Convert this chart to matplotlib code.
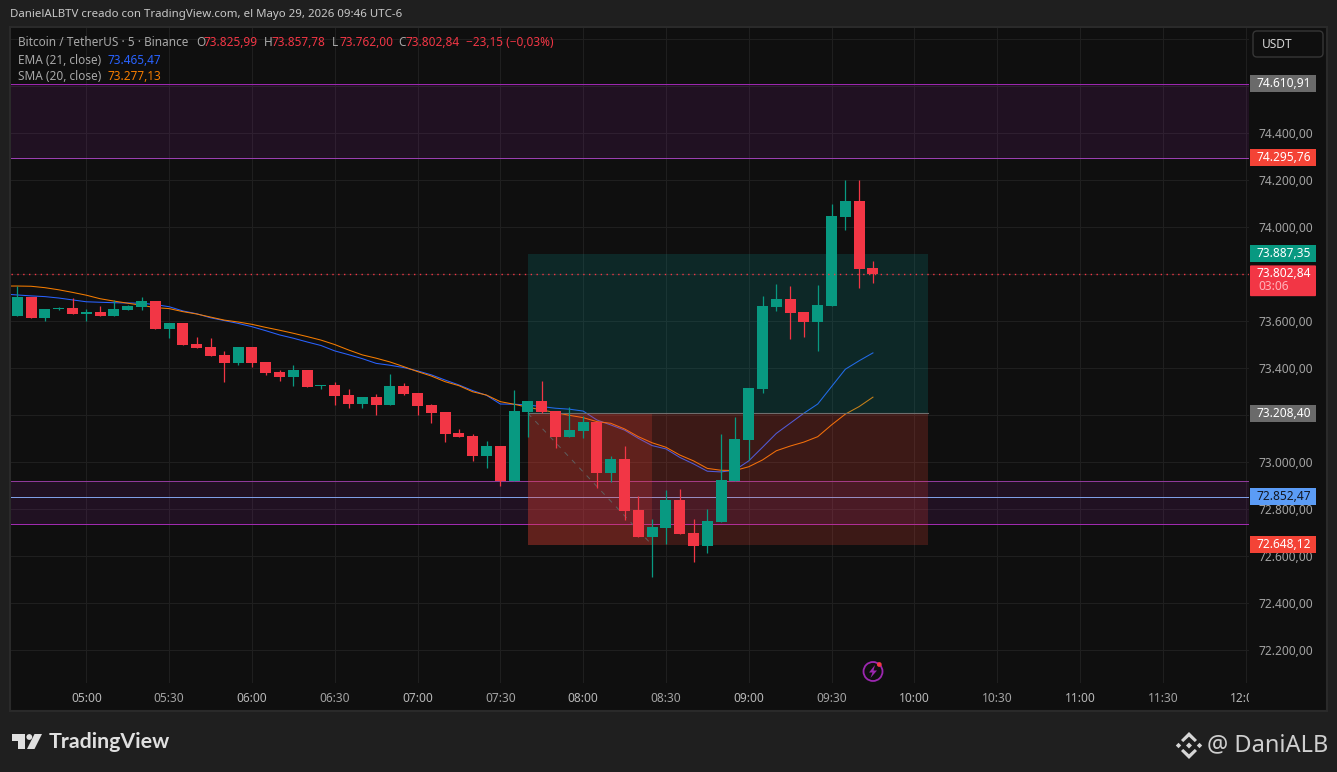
import matplotlib
matplotlib.use("Agg")
import matplotlib.pyplot as plt
from matplotlib.patches import Rectangle, Circle, Polygon, FancyBboxPatch
from matplotlib.transforms import Bbox, blended_transform_factory

plt.rcParams['font.family'] = ['Noto Sans', 'DejaVu Sans']

W, H = 1337, 772

# 5 minute candles, first bar is 04:35
opens = [73623, 73703, 73614, 73652, 73657, 73631, 73640, 73623, 73648, 73661,
         73686, 73567, 73593, 73503, 73491, 73457, 73423, 73491, 73427, 73384,
         73363, 73393, 73325, 73329, 73286, 73248, 73278, 73244, 73325, 73295,
         73244, 73214, 73125, 73112, 73027, 73069, 72920, 73214, 73261, 73218,
         73108, 73133, 73172, 72954, 73014, 72797, 72682, 72720, 72840, 72699,
         72644, 72746, 72920, 73095, 73312, 73661, 73695, 73640, 73597, 73665,
         74044, 74112, 73825.99]
highs = [73751, 73703, 73652, 73661, 73699, 73652, 73665, 73691, 73669, 73703,
         73686, 73593, 73593, 73533, 73529, 73474, 73491, 73491, 73427, 73393,
         73414, 73393, 73329, 73342, 73312, 73278, 73291, 73376, 73337, 73295,
         73248, 73214, 73142, 73120, 73091, 73069, 73308, 73261, 73346, 73218,
         73235, 73197, 73172, 73027, 73069, 72857, 72759, 72882, 72886, 72759,
         72801, 73120, 73193, 73316, 73708, 73759, 73750, 73640, 73754, 74099,
         74201, 74201, 73857.78]
lows = [73623, 73614, 73603, 73648, 73631, 73601, 73623, 73623, 73648, 73648,
        73567, 73529, 73499, 73486, 73452, 73342, 73414, 73406, 73371, 73346,
        73325, 73320, 73312, 73244, 73231, 73231, 73201, 73244, 73286, 73201,
        73167, 73086, 73108, 73006, 72976, 72899, 72920, 73108, 73210, 73061,
        73108, 73103, 72891, 72916, 72754, 72682, 72512, 72652, 72695, 72576,
        72614, 72746, 72920, 73010, 73295, 73644, 73525, 73533, 73474, 73665,
        73989, 73742, 73762.00]
closes = [73703, 73614, 73652, 73657, 73631, 73640, 73623, 73652, 73665, 73686,
          73567, 73593, 73499, 73486, 73452, 73423, 73491, 73423, 73380, 73363,
          73393, 73320, 73329, 73282, 73248, 73278, 73244, 73325, 73291, 73240,
          73210, 73120, 73108, 73027, 73069, 72920, 73218, 73261, 73214, 73108,
          73137, 73172, 72954, 73014, 72793, 72682, 72725, 72840, 72695, 72644,
          72750, 72925, 73099, 73316, 73665, 73695, 73635, 73597, 73669, 74048,
          74112, 73823, 73802.84]

# moving averages, first value is one bar before the first candle
ema = [73716, 73712, 73708, 73705, 73699, 73691, 73683, 73681, 73679, 73678,
       73677, 73671, 73662, 73644, 73632, 73615, 73603, 73591, 73577, 73560,
       73542, 73528, 73512, 73497, 73474, 73458, 73441, 73421, 73413, 73403,
       73389, 73372, 73350, 73329, 73305, 73285, 73248, 73247, 73244, 73237,
       73230, 73226, 73218, 73180, 73159, 73137, 73102, 73071, 73057, 73021,
       72993, 72962, 72959, 72967, 73006, 73064, 73123, 73166, 73209, 73248,
       73322, 73396, 73432, 73465.47]
sma = [73750, 73750, 73749, 73743, 73734, 73723, 73711, 73696, 73686, 73677,
       73668, 73658, 73654, 73641, 73631, 73618, 73605, 73597, 73587, 73574,
       73562, 73549, 73535, 73520, 73501, 73478, 73457, 73443, 73427, 73407,
       73386, 73367, 73343, 73326, 73300, 73286, 73258, 73247, 73234, 73223,
       73211, 73200, 73190, 73173, 73166, 73142, 73109, 73083, 73064, 73031,
       73006, 72974, 72966, 72965, 72981, 73010, 73049, 73069, 73086, 73109,
       73159, 73205, 73237, 73277.13]

price_ticks = [72200, 72400, 72600, 72800, 73000, 73200, 73400, 73600, 73800, 74000, 74200, 74400, 74600, 74800]
price_labels = ['72.200,00', '72.400,00', '72.600,00', '72.800,00', '73.000,00', '', '73.400,00',
                '73.600,00', '', '74.000,00', '74.200,00', '74.400,00', '', '']
time_labels = ['05:00', '05:30', '06:00', '06:30', '07:00', '07:30', '08:00', '08:30',
               '09:00', '09:30', '10:00', '10:30', '11:00', '11:30', '12:00']

zone_top = [74610.91, 74295.76]
zone_bottom = [72919, 72736]
level = 72852.47
entry, target, stop = 73208.40, 73887.35, 72648.12
last_price = 73802.84

GREEN = '#089981'
RED = '#f23645'
LOSS = '#f44336'
PURPLE = '#9c27b0'

fig = plt.figure(figsize=(W / 100, H / 100), dpi=100, facecolor='#1f1f1f')


def pixel_axes(zorder):
    a = fig.add_axes([0, 0, 1, 1], zorder=zorder)
    a.set_xlim(0, W)
    a.set_ylim(H, 0)
    a.axis('off')
    return a


back = pixel_axes(0)
back.add_patch(Rectangle((10, 27), 1317, 684, fc='#0f0f0f', ec='#2a2a2a', lw=1.5))

# main pane in pixels: x 11-1249, y 28-683
ax = fig.add_axes([11 / W, 1 - 683 / H, 1238 / W, 655 / H], zorder=1, facecolor='#0f0f0f')
ax.set_xlim(-0.457, 89.25)
ax.set_ylim(72060.8, 74848)
for s in ax.spines.values():
    s.set_visible(False)

ax.set_yticks(price_ticks, price_labels)
ax.yaxis.tick_right()
ax.set_xticks(range(5, 5 + 6 * len(time_labels), 6), time_labels)
ax.tick_params(axis='y', length=0, pad=6.5, labelsize=8.6, labelcolor='#a3a3a3')
ax.tick_params(axis='x', length=0, pad=6.5, labelsize=8.6, labelcolor='#a3a3a3')
ax.grid(True, color='#1f1f1f', lw=0.8)
ax.set_axisbelow(True)
for lab in ax.get_xticklabels():
    if lab.get_text().endswith(':00'):
        lab.set_color('#b8b8b8')
    if lab.get_text() in ('10:00', '11:00', '12:00'):
        lab.set_fontweight('bold')
last = ax.get_xticklabels()[-1]
last.set_clip_on(True)
last.set_clip_box(Bbox([[0, 0], [1249, H]]))

# purple zones
for lo, hi in [(zone_top[1], zone_top[0]), (zone_bottom[1], zone_bottom[0])]:
    ax.axhspan(lo, hi, fc=PURPLE, alpha=0.12, lw=0, zorder=1)
ax.axhline(zone_top[0], color=PURPLE, lw=0.72, zorder=1.5)
ax.axhline(zone_top[1], color='#9a3fb0', lw=0.72, zorder=1.5)
ax.axhline(zone_bottom[0], color='#8f3a9a', lw=0.72, zorder=1.5)
ax.axhline(zone_bottom[1], color='#a02ab0', lw=0.72, zorder=1.5)
ax.axhline(level, color='#7f9fe6', lw=0.72, zorder=1.5)

# moving averages
bars = list(range(-1, len(ema) - 1))
ax.plot(bars, ema, color='#2962ff', lw=0.75, zorder=2)
ax.plot(bars, sma, color='#f57c00', lw=0.75, zorder=2)

# long position tool
left, right, inner = 37, 66, 46
ax.add_patch(Rectangle((left, entry), right - left, target - entry, fc='#089990', alpha=0.19, lw=0, zorder=3))
ax.add_patch(Rectangle((left, stop), right - left, entry - stop, fc=LOSS, alpha=0.2, lw=0, zorder=3))
ax.add_patch(Rectangle((left, stop), inner - left, entry - stop, fc=LOSS, alpha=0.2, lw=0, zorder=3))
ax.plot([left, right], [entry, entry], color='#6e6e6e', lw=0.8, zorder=3.1)
ax.plot([left, inner], [entry, stop], color='#5e5e5e', lw=0.7, ls=(0, (5, 6)), zorder=3.1)

# candles
idx = range(len(opens))
colors = [GREEN if c >= o else RED for o, c in zip(opens, closes)]
ax.vlines(idx, lows, highs, colors=colors, lw=0.9, zorder=4)
bottoms = [min(o, c) for o, c in zip(opens, closes)]
heights = [max(abs(c - o), 4) for o, c in zip(opens, closes)]
ax.bar(idx, heights, bottom=bottoms, width=0.8, color=colors, lw=0, zorder=4.1)

ax.axhline(last_price, color=RED, lw=1, ls=(0, (1, 3.2)), zorder=5)

# everything on top of the pane: headers, price tags, logos
top = pixel_axes(2)
top.patch.set_alpha(0)
price_y = blended_transform_factory(top.transData, ax.transData)


def price_tag(price, text, bg, fg='white', sub=None):
    tag_h = 72.3
    if sub:
        top.add_patch(FancyBboxPatch((1250, price - 96), 66, 131, boxstyle='round,pad=0,rounding_size=1',
                                     fc=bg, lw=0, transform=price_y, mutation_aspect=4))
        top.text(1311, price, text, color=fg, fontsize=8.6, fontweight='medium', ha='right', va='center',
                 transform=price_y)
        top.text(1258, price - 55, sub, color='#ffb3ba', fontsize=8.6, ha='left', va='center', transform=price_y)
    else:
        top.add_patch(Rectangle((1250, price - tag_h / 2), 66, tag_h, fc=bg, lw=0, transform=price_y))
        top.text(1311, price, text, color=fg, fontsize=8.6, fontweight='medium', ha='right', va='center',
                 transform=price_y)


price_tag(74610.91, '74.610,91', '#6a6a6a')
price_tag(74295.76, '74.295,76', LOSS)
price_tag(73887.35, '73.887,35', GREEN)
price_tag(last_price, '73.802,84', RED, sub='03:06')
price_tag(entry, '73.208,40', '#6a6a6a')
price_tag(level, '72.852,47', '#5b9cf6', fg='#131722')
price_tag(stop, '72.648,12', LOSS)

top.text(10, 15, 'DanielALBTV creado con TradingView.com, el Mayo 29, 2026 09:46 UTC-6',
         color='#c8c8c8', fontsize=8.25, va='center')

legend = [(18, 'Bitcoin / TetherUS · 5 · Binance', '#a8a8a8'), (196, 'O', '#a8a8a8'), (204, '73.825,99', RED),
          (264, 'H', '#a8a8a8'), (272, '73.857,78', RED), (332, 'L', '#a8a8a8'), (339, '73.762,00', RED),
          (398, 'C', '#a8a8a8'), (406, '73.802,84', RED), (466, '−23,15 (−0,03%)', RED)]
for x, s, c in legend:
    top.text(x, 43, s, color=c, fontsize=8.5, va='center')
top.text(18, 60, 'EMA (21, close)', color='#a8a8a8', fontsize=8.5, va='center')
top.text(107, 60, '73.465,47', color='#2962ff', fontsize=8.5, va='center')
top.text(18, 77, 'SMA (20, close)', color='#a8a8a8', fontsize=8.5, va='center')
top.text(107, 77, '73.277,13', color='#f57c00', fontsize=8.5, va='center')

# USDT button
top.add_patch(FancyBboxPatch((1253, 31), 70, 26, boxstyle='round,pad=0,rounding_size=4',
                             fc='#0f0f0f', ec='#363636', lw=1))
top.text(1262, 44.5, 'USDT', color='#d4d4d4', fontsize=8.6, va='center')

# lightning icon
top.add_patch(Circle((873, 671.5), 9.5, fc='none', ec=PURPLE, lw=1.3))
top.add_patch(Polygon([(875, 665), (869, 672.5), (872.5, 672.5), (870.5, 678), (877, 670.5), (873.5, 670.5)],
                      fc=PURPLE, lw=0))
top.add_patch(Circle((879.3, 664.5), 2.4, fc=RED, lw=0))

# TradingView logo
logo = '#e0e0e0'
top.add_patch(Polygon([(12, 734), (25, 734), (25, 749), (18, 749), (18, 741), (12, 741)], fc=logo, lw=0))
top.add_patch(Circle((29.3, 737), 2.9, fc=logo, lw=0))
top.add_patch(Polygon([(34.5, 734), (42, 734), (34.5, 749), (27, 749)], fc=logo, lw=0))
top.text(49, 741.5, 'TradingView', color=logo, fontsize=15.4, fontweight='bold', family='Lato', va='center')

# Binance mark and author
cx, cy = 1189, 745.5
for dx, dy, r in [(0, 0, 3), (-10.5, 0, 2.7), (10.5, 0, 2.7)]:
    top.add_patch(Polygon([(cx + dx - r, cy + dy), (cx + dx, cy + dy - r), (cx + dx + r, cy + dy), (cx + dx, cy + dy + r)],
                          fc='#d6d6d6', lw=0))
for sign in (-1, 1):
    top.add_patch(Polygon([(cx, cy + sign * 13.5), (cx + 8, cy + sign * 5.5), (cx + 5.8, cy + sign * 3.4),
                           (cx, cy + sign * 8.8), (cx - 5.8, cy + sign * 3.4), (cx - 8, cy + sign * 5.5)],
                          fc='#d6d6d6', lw=0))
top.text(1328, 745, '@ DaniALB', color='#cfcfcf', fontsize=17, ha='right', va='center')

fig.savefig('out.png', dpi=100, facecolor=fig.get_facecolor())
